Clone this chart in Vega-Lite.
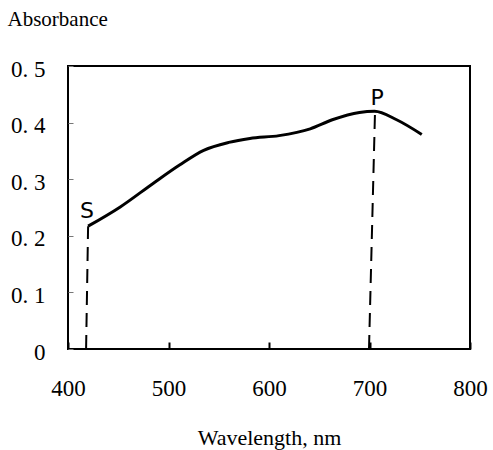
{
  "$schema": "https://vega.github.io/schema/vega-lite/v6.json",
  "autosize": "none",
  "width": 402,
  "height": 283,
  "padding": {"left": 68, "top": 66, "right": 23, "bottom": 101},
  "background": "white",
  "config": {
    "view": {"stroke": "black", "strokeWidth": 2},
    "font": "Liberation Serif"
  },
  "datasets": {
    "curve": [
      {"wavelength": 420, "absorbance": 0.217},
      {"wavelength": 452, "absorbance": 0.251},
      {"wavelength": 485, "absorbance": 0.293},
      {"wavelength": 511, "absorbance": 0.325},
      {"wavelength": 535, "absorbance": 0.351},
      {"wavelength": 560, "absorbance": 0.365},
      {"wavelength": 581, "absorbance": 0.372},
      {"wavelength": 610, "absorbance": 0.377},
      {"wavelength": 641, "absorbance": 0.389},
      {"wavelength": 663, "absorbance": 0.405},
      {"wavelength": 690, "absorbance": 0.418},
      {"wavelength": 705, "absorbance": 0.42},
      {"wavelength": 727, "absorbance": 0.405},
      {"wavelength": 752, "absorbance": 0.379}
    ],
    "drops": [
      {"x0": 418, "x1": 420, "y0": 0, "y1": 0.217},
      {"x0": 699.5, "x1": 705.5, "y0": 0, "y1": 0.42}
    ],
    "points": [
      {"wavelength": 419, "absorbance": 0.244, "label": "S"},
      {"wavelength": 707.5, "absorbance": 0.443, "label": "P"}
    ]
  },
  "layer": [
    {
      "data": {"name": "curve"},
      "mark": {"type": "line", "color": "black", "strokeWidth": 3, "interpolate": "monotone"},
      "encoding": {
        "x": {
          "field": "wavelength", "type": "quantitative",
          "scale": {"domain": [400, 800], "nice": false, "zero": false},
          "axis": {
            "title": "Wavelength, nm", "values": [400, 500, 600, 700, 800],
            "domain": false, "grid": false, "tickSize": -7, "tickWidth": 2, "tickColor": "black",
            "labelFont": "Liberation Serif", "labelFontSize": 23, "labelColor": "black",
            "labelBaseline": "alphabetic", "labelPadding": 53, "labelFlush": false,
            "titleFont": "Liberation Serif", "titleFontSize": 22, "titleFontWeight": "normal",
            "titleColor": "black", "titleBaseline": "alphabetic", "titleY": 95, "titlePadding": 0
          }
        },
        "y": {
          "field": "absorbance", "type": "quantitative",
          "scale": {"domain": [0, 0.5], "nice": false},
          "axis": {
            "title": "Absorbance", "values": [0, 0.1, 0.2, 0.3, 0.4, 0.5],
            "labelExpr": "datum.value == 0 ? '0' : replace(format(datum.value, '.1f'), '.', '. ')",
            "domain": false, "grid": false, "tickSize": -5, "tickWidth": 1, "tickColor": "#777",
            "labelFont": "Liberation Serif", "labelFontSize": 23, "labelColor": "black",
            "labelPadding": 28, "labelOffset": 3, "labelFlush": false,
            "titleFont": "Liberation Serif", "titleFontSize": 21, "titleFontWeight": "normal",
            "titleColor": "black", "titleAngle": 0, "titleAlign": "left", "titleBaseline": "alphabetic",
            "titleX": -61, "titleY": -41
          }
        }
      }
    },
    {
      "data": {"name": "drops"},
      "mark": {"type": "rule", "color": "black", "strokeWidth": 2, "strokeDash": [14, 8]},
      "encoding": {
        "x": {"field": "x0", "type": "quantitative"},
        "x2": {"field": "x1"},
        "y": {"field": "y0", "type": "quantitative"},
        "y2": {"field": "y1"}
      }
    },
    {
      "data": {"name": "points"},
      "mark": {"type": "text", "font": "DejaVu Sans", "fontSize": 22, "color": "black", "baseline": "middle", "align": "center"},
      "encoding": {
        "x": {"field": "wavelength", "type": "quantitative"},
        "y": {"field": "absorbance", "type": "quantitative"},
        "text": {"field": "label"}
      }
    }
  ]
}
